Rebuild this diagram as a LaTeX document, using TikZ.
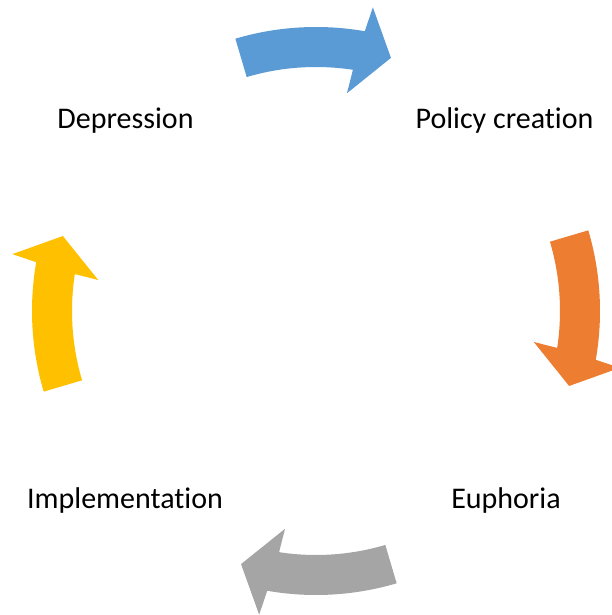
\documentclass[tikz,border=0pt]{standalone}
\usepackage{fontspec}
\setmainfont[Ligatures=NoCommon]{Carlito}
\definecolor{arrBlue}{HTML}{5B9BD5}
\definecolor{arrOrange}{HTML}{ED7D31}
\definecolor{arrGray}{HTML}{A5A5A5}
\definecolor{arrYellow}{HTML}{FFC000}
\tikzset{
  stage/.style={anchor=base, inner sep=0pt, font=\fontsize{30}{36}\selectfont},
  % curved block arrow on a ring around the cycle centre, pointing clockwise
  pics/cyclearrow/.style={code={
    \fill[#1] (106.5:284pt) arc[start angle=106.5, end angle=80.1, radius=284pt]
      -- (79.4:309pt) -- (73.5:264pt) -- (81.9:220pt) -- (81.3:244pt)
      arc[start angle=81.3, end angle=106.5, radius=244pt] -- cycle;
  }}
}
\begin{document}
\begin{tikzpicture}[x=1pt, y=1pt]
  \useasboundingbox (0,0) rectangle (611,615);
  \coordinate (C) at (316,304);

  % stages
  \node[stage] (dep) at (125.5,486) {Depression};
  \node[stage] (pol) at (504.5,486) {Policy creation};
  \node[stage] (eup) at (506,106) {Euphoria};
  \node[stage] (imp) at (125,106) {Implementation};

  % arrows between the stages
  \pic at (C) {cyclearrow=arrBlue};
  \pic[rotate=-90] at (C) {cyclearrow=arrOrange};
  \pic[rotate=-180] at (C) {cyclearrow=arrGray};
  \pic[rotate=90] at (C) {cyclearrow=arrYellow};
\end{tikzpicture}
\end{document}
